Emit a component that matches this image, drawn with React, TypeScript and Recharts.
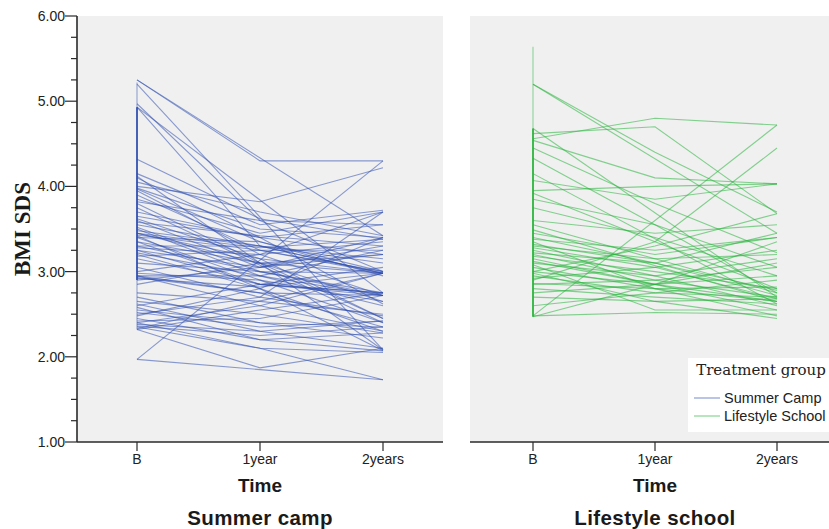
import React from 'react';
import { LineChart, Line, XAxis, YAxis, CartesianGrid, ReferenceLine, Legend } from 'recharts';

const timePoints = ['B', '1year', '2years'];
const yTicks = [1, 1.25, 1.5, 1.75, 2, 2.25, 2.5, 2.75, 3, 3.25, 3.5, 3.75, 4, 4.25, 4.5, 4.75, 5, 5.25, 5.5, 5.75, 6];

// Summer camp subjects, one entry per child (null = missing visit)
const summerBaseline = [
    5.25, 5.25, 5.20, 4.97, 4.93, 4.93, 4.32, 4.15, 4.12, 4.00,
    3.97, 3.95, 3.85, 3.80, 3.65, 3.60, 3.55, 3.50, 3.45, 3.45,
    3.43, 3.40, 3.30, 3.25, 3.25, 3.20, 3.10, 2.95, 2.93, 2.90,
    2.65, 2.60, 2.55, 2.50, 2.45, 2.40, 2.38, 2.35, 2.32, 1.97,
    1.97, 2.32, 3.98, 4.10, 3.90, 3.70, 3.62, 3.48, 3.42, 3.35,
    3.28, 3.22, 3.15, 3.05, 3.00, 2.95, 2.92, 2.85, 2.70, 2.62,
    2.52, 2.48, 2.42, 2.36, 2.33, 3.82, 3.75, 3.58, 3.52, 3.40,
    3.30, 3.18, 2.98, 2.75, 2.58, 4.05, 3.45, 2.95, 2.40, 3.35,
];
const summerYear1 = [
    4.30, null, null, 3.60, null, 3.30, 3.62, 3.55, null, 3.82,
    3.35, 3.20, 3.45, 3.10, 3.40, 3.05, 3.30, 2.95, 3.28, 3.10,
    3.25, 2.90, 3.30, 2.85, 3.05, 2.80, 3.00, 2.95, 2.75, 3.05,
    2.50, 2.85, 2.40, 2.70, 2.20, 2.60, 2.30, 2.10, 1.87, null,
    null, 2.55, 3.50, 3.40, 3.25, 3.40, 3.15, 3.30, 2.80, 3.10,
    3.20, 2.95, 2.85, 2.70, 3.20, 2.60, 2.82, 3.10, 2.40, 2.30,
    2.35, 2.80, 2.45, 2.25, null, 3.60, null, 3.42, 3.00, 3.35,
    3.00, 3.25, 2.90, 2.65, 2.20, 3.70, 3.15, 2.75, 2.10, 2.85,
];
const summerYear2 = [
    4.30, 3.42, 2.08, 3.00, 2.75, 2.98, 3.38, 3.72, 2.08, 4.22,
    2.95, 2.72, 3.70, 2.45, 3.55, 3.20, 2.98, 2.72, 3.38, 2.65,
    2.98, 2.40, 3.15, 2.75, 3.30, 2.30, 2.98, 3.25, 2.72, 3.40,
    2.28, 3.05, 2.35, 3.70, 2.07, 2.98, 2.42, 1.73, 2.10, 1.73,
    4.30, 2.75, 3.40, 2.62, 3.00, 3.20, 2.45, 3.10, 2.07, 2.98,
    3.35, 2.60, 2.75, 2.48, 3.70, 2.30, 2.98, 3.20, 2.22, 2.10,
    2.42, 3.40, 2.72, 2.35, 2.98, 3.55, 2.40, 3.30, 2.75, 3.00,
    2.72, 3.25, 2.65, 2.50, 2.28, 3.42, 2.98, 2.35, 2.05, 2.72,
];

// Lifestyle school subjects
const lifestyleBaseline = [
    5.20, 5.20, 4.56, 4.62, 4.68, 4.54, 4.33, 4.15, 4.07, 3.92,
    3.85, 3.49, 3.45, 3.40, 3.32, 3.30, 3.28, 3.25, 3.22, 3.20,
    3.18, 3.15, 3.10, 3.05, 3.00, 3.00, 2.95, 2.90, 2.86, 2.85,
    2.80, 2.75, 2.70, 2.48, 2.48, 2.47, 3.60, 3.75, 3.95, 3.55,
    3.35, 3.12, 2.98, 3.38, 2.60, 4.45, 3.08, 2.92,
];
const lifestyleYear1 = [
    4.40, null, 4.80, 4.70, null, 4.10, 3.55, null, 3.85, 3.35,
    3.55, null, 3.20, 3.10, 3.10, 3.15, 3.05, 2.95, 3.10, 2.90,
    3.00, 2.85, 2.95, 2.80, 2.85, 3.30, 2.75, 3.35, 2.80, 2.90,
    2.70, 2.85, 2.65, null, 2.52, 2.85, 3.45, 3.40, 4.00, 3.15,
    2.80, 2.85, 2.65, 3.25, 2.75, 3.80, 2.55, 3.05,
];
const lifestyleYear2 = [
    3.70, 3.45, 4.72, 3.68, 2.70, 4.03, 2.75, 2.62, 4.03, 2.80,
    3.05, 2.65, 3.40, 2.78, 2.72, 3.20, 2.68, 2.60, 3.45, 2.70,
    2.80, 2.55, 3.15, 2.65, 2.95, 3.68, 2.70, 4.45, 2.82, 3.05,
    2.62, 3.35, 2.45, 4.72, 2.50, 3.10, 3.55, 2.95, 4.03, 2.75,
    2.48, 2.65, 2.68, 3.40, 2.90, 3.22, 2.55, 3.25,
];

// vertical strokes drawn at baseline: [light range, dense range]
const summerSpine = [2.32, 5.22];
const summerSpineDense = [2.9, 4.93];
const lifestyleSpine = [2.47, 5.64];
const lifestyleSpineDense = [2.47, 4.68];

const BLUE = '#2f4fb0';
const GREEN = '#27b53a';
const AXIS = '#2a2a2a';
const SANS = 'Arial, "Liberation Sans", sans-serif';
const SERIF = '"Liberation Serif", "DejaVu Serif", serif';

function buildRows(b: (number | null)[], y1: (number | null)[], y2: (number | null)[]) {
    const cols = [b, y1, y2];
    return timePoints.map((t, i) => {
        const row: any = { time: t };
        b.forEach((_, k) => {
            row['p' + k] = cols[i][k];
        });
        return row;
    });
}

const summerRows = buildRows(summerBaseline, summerYear1, summerYear2);
const lifestyleRows = buildRows(lifestyleBaseline, lifestyleYear1, lifestyleYear2);

const YTick = (props: any) => {
    const { x, y, payload } = props;
    const major = Number.isInteger(payload.value);
    return (
        <g>
            <line x1={x - (major ? 12 : 6)} x2={x} y1={y} y2={y} stroke={AXIS} strokeWidth={1.2} />
            {major && (
                <text x={x - 12} y={y} dy={5} textAnchor="end" fontSize={14} fontFamily={SANS} fill="#222">
                    {payload.value.toFixed(2)}
                </text>
            )}
        </g>
    );
};

const makeXLabel = (title: string) => (props: any) => {
    const vb = props.viewBox || {};
    const cx = vb.x + vb.width / 2;
    return (
        <g>
            <text x={cx} y={vb.y + 43} textAnchor="middle" dominantBaseline="central" fontSize={19} fontWeight="bold" fontFamily={SANS} fill="#1a1a1a">
                Time
            </text>
            <text x={cx} y={vb.y + 75} textAnchor="middle" dominantBaseline="central" fontSize={20.5} fontWeight="bold" fontFamily={SANS} fill="#1a1a1a" letterSpacing={0.4}>
                {title}
            </text>
        </g>
    );
};

const YLabel = (props: any) => {
    const vb = props.viewBox || {};
    const x = vb.x + 5;
    const y = vb.y + vb.height / 2;
    return (
        <text x={x} y={y} transform={`rotate(-90, ${x}, ${y})`} textAnchor="middle" dominantBaseline="central" fontSize={23} fontWeight="bold" fontFamily={SERIF} fill="#1a1a1a">
            BMI SDS
        </text>
    );
};

const TreatmentLegend = () => (
    <div style={{ position: 'relative', width: 150, height: 74, background: '#ffffff', fontFamily: SANS }}>
        <div style={{ position: 'absolute', left: 0, top: 3, width: 146, textAlign: 'center', fontFamily: '"DejaVu Serif", serif', fontSize: 15, color: '#222', whiteSpace: 'nowrap' }}>
            Treatment group
        </div>
        {[
            { name: 'Summer Camp', color: BLUE, top: 33 },
            { name: 'Lifestyle School', color: GREEN, top: 51 },
        ].map((item) => (
            <div key={item.name} style={{ position: 'absolute', left: 6, top: item.top, display: 'flex', alignItems: 'center', whiteSpace: 'nowrap' }}>
                <svg width={26} height={14}>
                    <line x1={0} x2={26} y1={7} y2={7} stroke={item.color} strokeOpacity={0.55} strokeWidth={1.2} />
                </svg>
                <span style={{ marginLeft: 4, fontSize: 14.5, color: '#222', lineHeight: '14px' }}>{item.name}</span>
            </div>
        ))}
    </div>
);

interface PanelProps {
    rows: any[];
    count: number;
    color: string;
    title: string;
    width: number;
    margin: { top: number; right: number; bottom: number; left: number };
    padding: number;
    showYAxis: boolean;
    spine: number[];
    spineDense: number[];
    showLegend?: boolean;
}

function Panel({ rows, count, color, title, width, margin, padding, showYAxis, spine, spineDense, showLegend }: PanelProps) {
    const keys = Array.from({ length: count }, (_, k) => 'p' + k);
    return (
        <LineChart width={width} height={529} data={rows} margin={margin}>
            <CartesianGrid fill="#f0f0f0" horizontal={false} vertical={false} stroke="none" />
            <XAxis
                dataKey="time"
                padding={{ left: padding, right: padding }}
                height={87}
                tickSize={9}
                tickMargin={3}
                axisLine={{ stroke: AXIS, strokeWidth: 1.6 }}
                tickLine={{ stroke: AXIS, strokeWidth: 1.2 }}
                tick={{ fontSize: 14, fontFamily: SANS, fill: '#222' }}
                label={makeXLabel(title)}
            />
            <XAxis
                xAxisId="top"
                orientation="top"
                dataKey="time"
                height={0}
                tick={false}
                tickLine={false}
                axisLine={{ stroke: AXIS, strokeWidth: 1.6 }}
            />
            {showYAxis ? (
                <YAxis
                    domain={[1, 6]}
                    ticks={yTicks}
                    interval={0}
                    width={60}
                    tickSize={0}
                    tickMargin={0}
                    tickLine={false}
                    axisLine={{ stroke: AXIS, strokeWidth: 1.6 }}
                    tick={<YTick />}
                    label={YLabel}
                />
            ) : (
                <YAxis
                    domain={[1, 6]}
                    ticks={yTicks}
                    width={0}
                    tick={false}
                    tickLine={false}
                    axisLine={{ stroke: AXIS, strokeWidth: 1.6 }}
                />
            )}
            <YAxis
                yAxisId="right"
                orientation="right"
                domain={[1, 6]}
                width={0}
                tick={false}
                tickLine={false}
                axisLine={{ stroke: AXIS, strokeWidth: 1.6 }}
            />
            <ReferenceLine
                segment={[{ x: 'B', y: spine[0] }, { x: 'B', y: spine[1] }]}
                stroke={color}
                strokeOpacity={0.45}
                strokeWidth={1.2}
            />
            <ReferenceLine
                segment={[{ x: 'B', y: spineDense[0] }, { x: 'B', y: spineDense[1] }]}
                stroke={color}
                strokeOpacity={0.85}
                strokeWidth={2}
            />
            {keys.map((k) => (
                <Line
                    key={k}
                    dataKey={k}
                    type="linear"
                    stroke={color}
                    strokeOpacity={0.55}
                    strokeWidth={1.1}
                    dot={false}
                    activeDot={false}
                    connectNulls
                    isAnimationActive={false}
                />
            ))}
            {showLegend && (
                <Legend
                    layout="horizontal"
                    verticalAlign="middle"
                    align="center"
                    content={<TreatmentLegend />}
                    wrapperStyle={{ left: 248, top: 358, width: 150, height: 74 }}
                />
            )}
        </LineChart>
    );
}

export default function App() {
    return (
        <div style={{ position: 'absolute', left: 0, top: 0, width: 829, height: 529, overflow: 'hidden', background: '#fff' }}>
            <div style={{ position: 'absolute', left: 0, top: 0 }}>
                <Panel
                    rows={summerRows}
                    count={summerBaseline.length}
                    color={BLUE}
                    title="Summer camp"
                    width={460}
                    margin={{ top: 16, right: 17, bottom: 0, left: 17 }}
                    padding={60}
                    showYAxis
                    spine={summerSpine}
                    spineDense={summerSpineDense}
                />
            </div>
            <div style={{ position: 'absolute', left: 440, top: 0 }}>
                <Panel
                    rows={lifestyleRows}
                    count={lifestyleBaseline.length}
                    color={GREEN}
                    title="Lifestyle school"
                    width={420}
                    margin={{ top: 16, right: 20, bottom: 0, left: 30 }}
                    padding={63}
                    showYAxis={false}
                    spine={lifestyleSpine}
                    spineDense={lifestyleSpineDense}
                    showLegend
                />
            </div>
        </div>
    );
}
